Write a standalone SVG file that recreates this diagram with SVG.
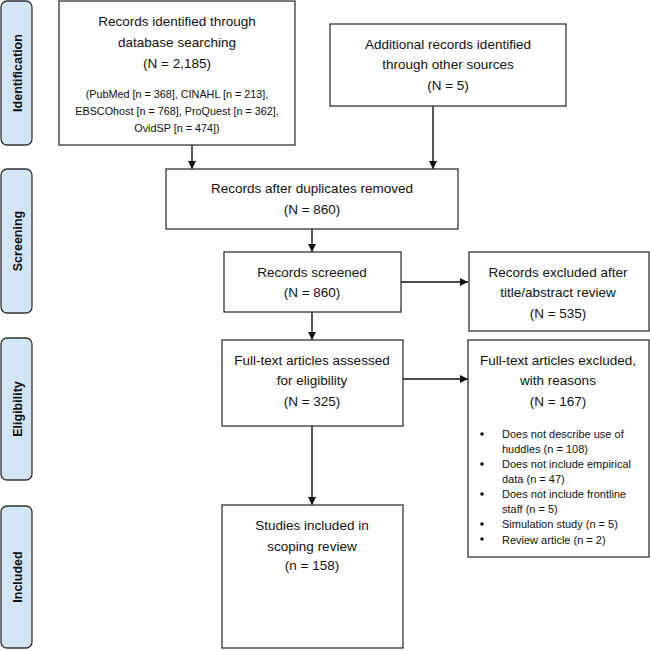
<svg xmlns="http://www.w3.org/2000/svg" width="650" height="651" viewBox="0 0 650 651">
<defs>
<style>
.band{fill:#d3e6f7;stroke:#333;stroke-width:1.3}
.box{fill:#fff;stroke:#333;stroke-width:1.3}
.bl{font-family:"Liberation Sans",Arial,sans-serif;font-weight:bold;font-size:12.5px;fill:#111;text-anchor:middle}
.t{font-family:"Liberation Sans",Arial,sans-serif;font-size:13.5px;fill:#111;text-anchor:middle}
.s{font-family:"Liberation Sans",Arial,sans-serif;font-size:10.8px;fill:#111;text-anchor:middle}
.b{font-family:"Liberation Sans",Arial,sans-serif;font-size:11px;fill:#111}
.c{stroke:#111;stroke-width:1.4;fill:none;marker-end:url(#ah)}
</style>
<marker id="ah" viewBox="0 0 10 10" refX="10" refY="5" markerWidth="8" markerHeight="8" markerUnits="userSpaceOnUse" orient="auto">
<path d="M0,0 L10,5 L0,10 z" fill="#111"/>
</marker>
</defs>
<rect width="650" height="651" fill="#fff"/>
<g id="band-identification">
<rect class="band" x="1" y="1" width="31" height="144" rx="6"/>
<text class="bl" transform="translate(22,73) rotate(-90)">Identification</text>
</g>
<g id="band-screening">
<rect class="band" x="1" y="169" width="31" height="144" rx="6"/>
<text class="bl" transform="translate(22,241) rotate(-90)">Screening</text>
</g>
<g id="band-eligibility">
<rect class="band" x="1" y="338" width="31" height="142" rx="6"/>
<text class="bl" transform="translate(22,409) rotate(-90)">Eligibility</text>
</g>
<g id="band-included">
<rect class="band" x="1" y="506" width="31" height="142" rx="6"/>
<text class="bl" transform="translate(22,577) rotate(-90)">Included</text>
</g>
<g id="connectors">
<line class="c" x1="192" y1="145" x2="192" y2="169"/>
<line class="c" x1="433" y1="106" x2="433" y2="169"/>
<line class="c" x1="312" y1="229" x2="312" y2="252"/>
<line class="c" x1="401" y1="282" x2="468" y2="282"/>
<line class="c" x1="312" y1="312" x2="312" y2="340"/>
<line class="c" x1="403" y1="379" x2="468" y2="379"/>
<line class="c" x1="312" y1="426" x2="312" y2="505"/>
</g>
<g id="records-identified">
<rect class="box" x="59" y="1" width="236" height="144"/>
<text class="t" x="177" y="26">Records identified through</text>
<text class="t" x="177" y="47">database searching</text>
<text class="t" x="177" y="68">(N = 2,185)</text>
<text class="s" x="177" y="98">(PubMed [n = 368], CINAHL [n = 213],</text>
<text class="s" x="177" y="115">EBSCOhost [n = 768], ProQuest [n = 362],</text>
<text class="s" x="177" y="132">OvidSP [n = 474])</text>
</g>
<g id="additional-records">
<rect class="box" x="330" y="24" width="236" height="82"/>
<text class="t" x="448" y="49">Additional records identified</text>
<text class="t" x="448" y="69">through other sources</text>
<text class="t" x="448" y="90">(N = 5)</text>
</g>
<g id="after-duplicates">
<rect class="box" x="166" y="169" width="292" height="60"/>
<text class="t" x="312" y="193">Records after duplicates removed</text>
<text class="t" x="312" y="214">(N = 860)</text>
</g>
<g id="records-screened">
<rect class="box" x="224" y="252" width="177" height="60"/>
<text class="t" x="312" y="277">Records screened</text>
<text class="t" x="312" y="297">(N = 860)</text>
</g>
<g id="records-excluded">
<rect class="box" x="469" y="252" width="180" height="79"/>
<text class="t" x="558" y="277">Records excluded after</text>
<text class="t" x="558" y="297">title/abstract review</text>
<text class="t" x="558" y="318">(N = 535)</text>
</g>
<g id="fulltext-assessed">
<rect class="box" x="222" y="340" width="181" height="86"/>
<text class="t" x="312" y="365">Full-text articles assessed</text>
<text class="t" x="312" y="385">for eligibility</text>
<text class="t" x="312" y="406">(N = 325)</text>
</g>
<g id="fulltext-excluded">
<rect class="box" x="468" y="340" width="181" height="217"/>
<text class="t" x="558" y="365">Full-text articles excluded,</text>
<text class="t" x="558" y="385">with reasons</text>
<text class="t" x="558" y="406">(N = 167)</text>
<circle cx="482" cy="434" r="1.8" fill="#111"/>
<text class="b" x="502" y="438">Does not describe use of</text>
<text class="b" x="502" y="453">huddles (n = 108)</text>
<circle cx="482" cy="464" r="1.8" fill="#111"/>
<text class="b" x="502" y="468">Does not include empirical</text>
<text class="b" x="502" y="483">data (n = 47)</text>
<circle cx="482" cy="494" r="1.8" fill="#111"/>
<text class="b" x="502" y="498">Does not include frontline</text>
<text class="b" x="502" y="513">staff (n = 5)</text>
<circle cx="482" cy="524" r="1.8" fill="#111"/>
<text class="b" x="502" y="528">Simulation study (n = 5)</text>
<circle cx="482" cy="539" r="1.8" fill="#111"/>
<text class="b" x="502" y="544">Review article (n = 2)</text>
</g>
<g id="studies-included">
<rect class="box" x="222" y="505" width="181" height="143"/>
<text class="t" x="312" y="530">Studies included in</text>
<text class="t" x="312" y="551">scoping review</text>
<text class="t" x="312" y="570">(n = 158)</text>
</g>
</svg>
